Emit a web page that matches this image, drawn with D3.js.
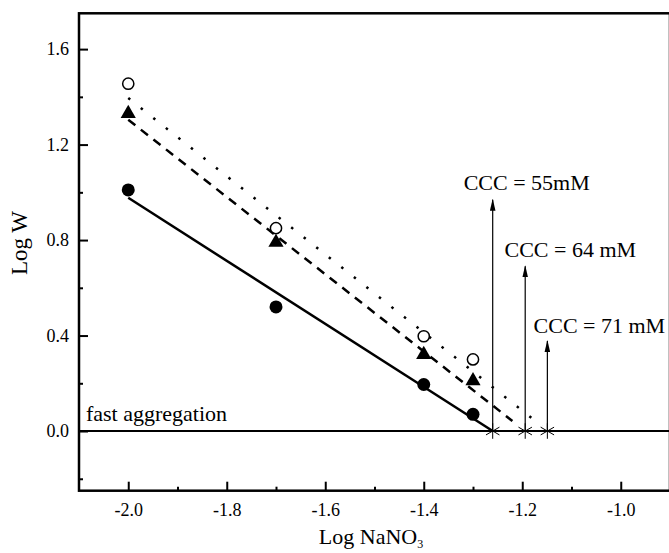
<!DOCTYPE html>
<html lang="en">
<head>
<meta charset="UTF-8">
<title>Log W vs Log NaNO3</title>
<script src="https://d3js.org/d3.v7.min.js"></script>
<style>
    body { margin: 0; background: #fff; }
    text { font-family: "Liberation Serif", "Times New Roman", serif; fill: #000; }
    .tick text { font-size: 18px; }
</style>
</head>
<body>
<script>

    // measured points
    const logSalt = [-2.0, -1.7, -1.4, -1.3];
    const openCircles = [1.455, 0.85, 0.397, 0.30];
    const triangles = [1.33, 0.79, 0.32, 0.21];
    const filledCircles = [1.01, 0.52, 0.195, 0.07];

    // fitted lines: start / end in data units
    const fitStyles = ["solid", "dashed", "dotted"];
    const fitStart = [[-2.0, 0.977], [-2.0, 1.304], [-2.0, 1.395]];
    const fitEnd = [[-1.26, 0.0], [-1.22, 0.042], [-1.16, 0.02]];

    // critical coagulation concentrations
    const cccLog = [-1.26, -1.194, -1.149];
    const cccArrowTop = [0.969, 0.69, 0.377];
    const cccLabels = ["CCC = 55mM", "CCC = 64 mM", "CCC = 71 mM"];
    const cccLabelX = [-1.319, -1.236, -1.177];
    const cccLabelY = [1.011, 0.731, 0.409];

    const xTicks = [-2.0, -1.8, -1.6, -1.4, -1.2, -1.0];
    const xMinor = [-1.9, -1.7, -1.5, -1.3, -1.1];
    const yTicks = [0.0, 0.4, 0.8, 1.2, 1.6];
    const yMinor = [-0.2, 0.2, 0.6, 1.0, 1.4];

    const width = 669, height = 553;
    const plotL = 79, plotR = 670, plotT = 13.3, plotB = 490.7;

    const svg = d3.select("body").append("svg")
        .attr("width", width)
        .attr("height", height);

    const x = d3.scaleLinear().domain([-2.1, -0.9]).range([plotL, plotR]);
    const y = d3.scaleLinear().domain([-0.25, 1.75]).range([plotB, plotT]);

    // plain hyphen for negatives, like the original
    const fmt = d => d.toFixed(1);

    svg.append("defs").append("marker")
        .attr("id", "head")
        .attr("viewBox", "0 -3 12 6")
        .attr("refX", 11).attr("refY", 0)
        .attr("markerUnits", "userSpaceOnUse")
        .attr("markerWidth", 12).attr("markerHeight", 6)
        .attr("orient", "auto")
        .append("path").attr("d", "M0,-2.8L12,0L0,2.8Z").attr("fill", "#000");

    // axes with inward ticks
    svg.append("g")
        .attr("transform", `translate(0,${plotB})`)
        .call(d3.axisBottom(x).tickValues(xTicks).tickSize(-9).tickPadding(13).tickFormat(fmt));
    svg.append("g")
        .attr("transform", `translate(0,${plotB})`)
        .call(d3.axisBottom(x).tickValues(xMinor).tickSize(-4).tickFormat(""));

    svg.append("g")
        .attr("transform", `translate(${plotL},0)`)
        .call(d3.axisLeft(y).tickValues(yTicks).tickSize(-9).tickPadding(10).tickFormat(fmt));
    svg.append("g")
        .attr("transform", `translate(${plotL},0)`)
        .call(d3.axisLeft(y).tickValues(yMinor).tickSize(-4).tickFormat(""));

    svg.selectAll(".domain").remove();
    svg.selectAll(".tick line").attr("stroke", "#000").attr("stroke-width", 2);
    svg.selectAll("g").attr("font-family", null).attr("font-size", null);

    // frame
    svg.append("rect")
        .attr("x", plotL).attr("y", plotT)
        .attr("width", plotR - plotL).attr("height", plotB - plotT)
        .attr("fill", "none").attr("stroke", "#000").attr("stroke-width", 2.5);

    // fast aggregation baseline
    svg.append("line")
        .attr("x1", plotL).attr("x2", plotR)
        .attr("y1", y(0)).attr("y2", y(0))
        .attr("stroke", "#000").attr("stroke-width", 2);

    svg.append("text")
        .attr("x", x(-2.086)).attr("y", y(0) - 10)
        .attr("font-size", 22)
        .text("fast aggregation");

    // fit lines
    const dash = { solid: null, dashed: "9,7", dotted: "2.5,13.5" };
    fitStyles.forEach((s, i) => {
        svg.append("line")
            .attr("x1", x(fitStart[i][0])).attr("y1", y(fitStart[i][1]))
            .attr("x2", x(fitEnd[i][0])).attr("y2", y(fitEnd[i][1]))
            .attr("stroke", "#000")
            .attr("stroke-width", 2.5)
            .attr("stroke-dasharray", dash[s]);
    });

    // CCC arrows
    cccLog.forEach((c, i) => {
        svg.append("line")
            .attr("x1", x(c)).attr("x2", x(c))
            .attr("y1", y(0)).attr("y2", y(cccArrowTop[i]))
            .attr("stroke", "#000").attr("stroke-width", 1.2)
            .attr("marker-end", "url(#head)");
        svg.append("text")
            .attr("x", x(cccLabelX[i])).attr("y", y(cccLabelY[i]))
            .attr("font-size", 22)
            .text(cccLabels[i]);
    });

    svg.selectAll(".star")
        .data(cccLog)
        .join("path")
        .attr("class", "star")
        .attr("transform", d => `translate(${x(d)},${y(0)})`)
        .attr("d", d3.symbol(d3.symbolAsterisk, 170))
        .attr("fill", "none")
        .attr("stroke", "#000")
        .attr("stroke-width", 1);

    // markers
    const pts = (vals) => logSalt.map((v, i) => [v, vals[i]]);

    svg.selectAll(".open")
        .data(pts(openCircles))
        .join("circle")
        .attr("class", "open")
        .attr("cx", d => x(d[0])).attr("cy", d => y(d[1]))
        .attr("r", 5.6)
        .attr("fill", "#fff").attr("stroke", "#000").attr("stroke-width", 1.5);

    svg.selectAll(".tri")
        .data(pts(triangles))
        .join("path")
        .attr("class", "tri")
        .attr("transform", d => `translate(${x(d[0])},${y(d[1])})`)
        .attr("d", d3.symbol(d3.symbolTriangle, 100))
        .attr("fill", "#000");

    svg.selectAll(".filled")
        .data(pts(filledCircles))
        .join("circle")
        .attr("class", "filled")
        .attr("cx", d => x(d[0])).attr("cy", d => y(d[1]))
        .attr("r", 6.5)
        .attr("fill", "#000");

    // axis titles
    const xt = svg.append("text")
        .attr("x", 371).attr("y", 544)
        .attr("text-anchor", "middle")
        .attr("font-size", 22);
    xt.append("tspan").text("Log NaNO");
    xt.append("tspan").attr("font-size", 12).attr("dy", 4).text("3");

    svg.append("text")
        .attr("transform", `translate(27,243) rotate(-90)`)
        .attr("text-anchor", "middle")
        .attr("font-size", 23)
        .text("Log W");

</script>
</body>
</html>
